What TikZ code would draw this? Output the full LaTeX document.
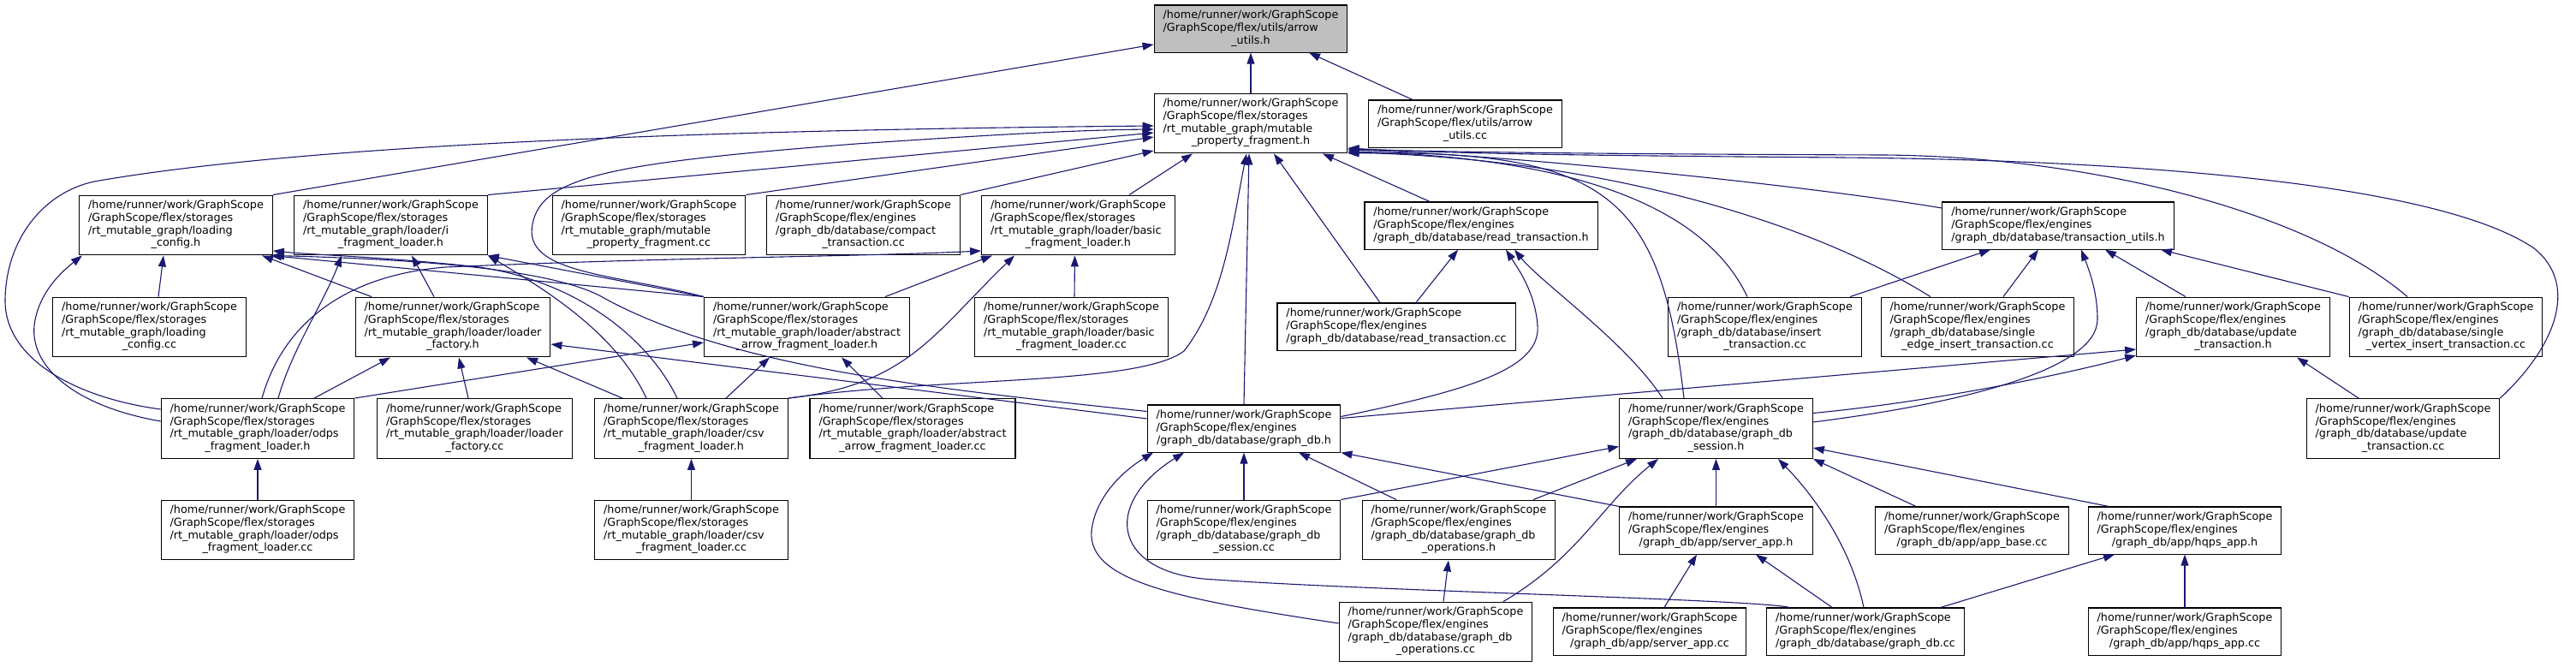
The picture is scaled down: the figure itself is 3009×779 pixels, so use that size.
\documentclass[tikz,border=0pt]{standalone}
\usepackage{fontspec}
\setmainfont{DejaVu Sans}
\usetikzlibrary{arrows.meta}
\definecolor{edgeblue}{HTML}{191970}
\definecolor{rootgray}{HTML}{BFBFBF}
\newcommand{\fpath}[2]{\begin{tabular}{@{}l@{}}/home/runner/work/GraphScope\\#1\\\multicolumn{1}{@{}c@{}}{#2}\end{tabular}}

\begin{document}
\begin{tikzpicture}[x=1pt, y=-1pt,
    font=\fontsize{12.75}{14.7}\selectfont,
    file/.style={draw=black, line width=1.1pt, fill=white, inner xsep=10.5pt, inner ysep=5.5pt},
    edge/.style={draw=edgeblue, line width=1.1pt, -{Triangle[length=13pt, width=9pt]}}
]
  \useasboundingbox (0,0) rectangle (3009,779);

  \node[file, fill=rootgray] (root) at (1461,33.5) {\fpath{/GraphScope/flex/utils/arrow}{\_utils.h}};
  \node[file] (mpf) at (1461,144) {\fpath{/GraphScope/flex/storages\\/rt\_mutable\_graph/mutable}{\_property\_fragment.h}};
  \node[file] (auc) at (1711.5,144.5) {\fpath{/GraphScope/flex/utils/arrow}{\_utils.cc}};

  \node[file] (lch) at (205.5,263) {\fpath{/GraphScope/flex/storages\\/rt\_mutable\_graph/loading}{\_config.h}};
  \node[file] (ifl) at (456.5,263) {\fpath{/GraphScope/flex/storages\\/rt\_mutable\_graph/loader/i}{\_fragment\_loader.h}};
  \node[file] (mpfcc) at (758,263) {\fpath{/GraphScope/flex/storages\\/rt\_mutable\_graph/mutable}{\_property\_fragment.cc}};
  \node[file] (compact) at (1008.5,263) {\fpath{/GraphScope/flex/engines\\/graph\_db/database/compact}{\_transaction.cc}};
  \node[file] (bflh) at (1259.5,263) {\fpath{/GraphScope/flex/storages\\/rt\_mutable\_graph/loader/basic}{\_fragment\_loader.h}};
  \node[file] (rth) at (1730,263.5) {\fpath{/GraphScope/flex/engines}{/graph\_db/database/read\_transaction.h}};
  \node[file] (tuh) at (2404,263.5) {\fpath{/GraphScope/flex/engines}{/graph\_db/database/transaction\_utils.h}};

  \node[file] (lccc) at (174.5,382) {\fpath{/GraphScope/flex/storages\\/rt\_mutable\_graph/loading}{\_config.cc}};
  \node[file] (lfh) at (529,382) {\fpath{/GraphScope/flex/storages\\/rt\_mutable\_graph/loader/loader}{\_factory.h}};
  \node[file] (aafh) at (942.5,382) {\fpath{/GraphScope/flex/storages\\/rt\_mutable\_graph/loader/abstract}{\_arrow\_fragment\_loader.h}};
  \node[file] (bflcc) at (1251.5,382) {\fpath{/GraphScope/flex/storages\\/rt\_mutable\_graph/loader/basic}{\_fragment\_loader.cc}};
  \node[file] (rtcc) at (1631,381.5) {\fpath{/GraphScope/flex/engines}{/graph\_db/database/read\_transaction.cc}};
  \node[file] (itcc) at (2061.5,382) {\fpath{/GraphScope/flex/engines\\/graph\_db/database/insert}{\_transaction.cc}};
  \node[file] (seitcc) at (2310,382) {\fpath{/GraphScope/flex/engines\\/graph\_db/database/single}{\_edge\_insert\_transaction.cc}};
  \node[file] (uth) at (2608.5,382) {\fpath{/GraphScope/flex/engines\\/graph\_db/database/update}{\_transaction.h}};
  \node[file] (svitcc) at (2857,382) {\fpath{/GraphScope/flex/engines\\/graph\_db/database/single}{\_vertex\_insert\_transaction.cc}};

  \node[file] (odpsh) at (301,500.5) {\fpath{/GraphScope/flex/storages\\/rt\_mutable\_graph/loader/odps}{\_fragment\_loader.h}};
  \node[file] (lfcc) at (554.5,500.5) {\fpath{/GraphScope/flex/storages\\/rt\_mutable\_graph/loader/loader}{\_factory.cc}};
  \node[file] (csvh) at (807.5,500.5) {\fpath{/GraphScope/flex/storages\\/rt\_mutable\_graph/loader/csv}{\_fragment\_loader.h}};
  \node[file] (aafcc) at (1066,500.5) {\fpath{/GraphScope/flex/storages\\/rt\_mutable\_graph/loader/abstract}{\_arrow\_fragment\_loader.cc}};
  \node[file] (gdbh) at (1453,500.5) {\fpath{/GraphScope/flex/engines}{/graph\_db/database/graph\_db.h}};
  \node[file] (gdsh) at (2004.5,500.5) {\fpath{/GraphScope/flex/engines\\/graph\_db/database/graph\_db}{\_session.h}};
  \node[file] (utcc) at (2807,500.5) {\fpath{/GraphScope/flex/engines\\/graph\_db/database/update}{\_transaction.cc}};

  \node[file] (odpscc) at (301,619) {\fpath{/GraphScope/flex/storages\\/rt\_mutable\_graph/loader/odps}{\_fragment\_loader.cc}};
  \node[file] (csvcc) at (807.5,619) {\fpath{/GraphScope/flex/storages\\/rt\_mutable\_graph/loader/csv}{\_fragment\_loader.cc}};
  \node[file] (gdscc) at (1453,619) {\fpath{/GraphScope/flex/engines\\/graph\_db/database/graph\_db}{\_session.cc}};
  \node[file] (gdoh) at (1704,619) {\fpath{/GraphScope/flex/engines\\/graph\_db/database/graph\_db}{\_operations.h}};
  \node[file] (sah) at (2004.5,619.5) {\fpath{/GraphScope/flex/engines}{/graph\_db/app/server\_app.h}};
  \node[file] (abcc) at (2303.5,619.5) {\fpath{/GraphScope/flex/engines}{/graph\_db/app/app\_base.cc}};
  \node[file] (hah) at (2552,619.5) {\fpath{/GraphScope/flex/engines}{/graph\_db/app/hqps\_app.h}};

  \node[file] (gdocc) at (1677,738) {\fpath{/GraphScope/flex/engines\\/graph\_db/database/graph\_db}{\_operations.cc}};
  \node[file] (sacc) at (1927,737.5) {\fpath{/GraphScope/flex/engines}{/graph\_db/app/server\_app.cc}};
  \node[file] (gdbcc) at (2179,737.5) {\fpath{/GraphScope/flex/engines}{/graph\_db/database/graph\_db.cc}};
  \node[file] (hacc) at (2552,737.5) {\fpath{/GraphScope/flex/engines}{/graph\_db/app/hqps\_app.cc}};

  % into arrow_utils.h
  \draw[edge] (mpf.north) -- (root.south);
  \draw[edge] ([xshift=-61.5pt]auc.north) -- ([xshift=68pt]root.south);
  \draw[edge] (lch.north east) -- ([yshift=-18.5pt]root.west);

  % into mutable_property_fragment.h
  \draw[edge] ([yshift=22.5pt]odpsh.west) .. controls (90,465) and (5,420) .. (6,350) .. controls (7,280) and (50,225) .. (110,212) .. controls (350,170) and (800,152) .. ([yshift=-3pt]mpf.west);
  \draw[edge] (aafh.north west) .. controls (720,320) and (610,320) .. (622,262) .. controls (632,205) and (720,190) .. (1000,168) .. controls (1150,158) and (1250,152) .. ([yshift=-7pt]mpf.west);
  \draw[edge] (ifl.north east) -- ([yshift=-11pt]mpf.west);
  \draw[edge] (mpfcc.north east) -- ([yshift=-16pt]mpf.west);
  \draw[edge] (compact.north east) -- ([yshift=-32pt]mpf.west);
  \draw[edge] ([xshift=59.5pt]bflh.north) -- ([xshift=-68pt]mpf.south);
  \draw[edge] (csvh.north east) .. controls (1100,440) and (1330,450) .. (1383,410) .. controls (1430,350) and (1440,260) .. ([xshift=-5pt]mpf.south);
  \draw[edge] (gdbh.north) -- ([xshift=-2pt]mpf.south);
  \draw[edge] ([xshift=-19pt]rtcc.north) -- ([xshift=27pt]mpf.south);
  \draw[edge] ([xshift=-60pt]rth.north) -- ([xshift=84pt]mpf.south);
  \draw[edge] ([yshift=20.5pt]tuh.west) .. controls (2100,215) and (1750,180) .. ([yshift=-31pt]mpf.east);
  \draw[edge] ([xshift=-20.5pt]itcc.north) .. controls (2000,260) and (1880,185) .. ([yshift=-33pt]mpf.east);
  \draw[edge] ([xshift=-55pt]seitcc.north) .. controls (2100,250) and (1850,185) .. ([yshift=-34pt]mpf.east);
  \draw[edge] ([xshift=-45pt]svitcc.north) .. controls (2700,250) and (2450,183) .. (2200,181) .. controls (1900,180) and (1700,178) .. ([yshift=-30pt]mpf.east);
  \draw[edge] (utcc.north east) .. controls (2990,400) and (3010,330) .. (2960,290) .. controls (2850,215) and (2500,187) .. (2150,184) .. controls (1900,182) and (1700,180) .. ([yshift=-29pt]mpf.east);
  \draw[edge] ([xshift=-37.5pt]gdsh.north) .. controls (1940,230) and (1880,175) .. ([yshift=-35pt]mpf.east);

  % loader headers
  \draw[edge] ([xshift=10.5pt]lccc.north) -- ([xshift=-14.5pt]lch.south);
  \draw[edge] ([xshift=-95pt]lfh.north) -- ([xshift=100.5pt]lch.south);
  \draw[edge] (aafh.north west) -- ([xshift=-3pt]lch.south east);
  \draw[edge] ([yshift=8.5pt]odpsh.west) .. controls (90,475) and (35,430) .. (40,380) .. controls (45,340) and (75,315) .. ([xshift=-109.5pt]lch.south);
  \draw[edge] ([yshift=20pt]gdbh.west) .. controls (1100,455) and (850,430) .. (700,345) .. controls (630,310) and (450,302) .. (lch.south east);
  \draw[edge] ([xshift=-16.5pt]csvh.north) .. controls (760,400) and (680,330) .. (560,312) .. controls (450,300) and (370,298) .. ([yshift=-30pt]lch.east);
  \draw[edge] ([xshift=-22pt]lfh.north) -- ([xshift=24.5pt]ifl.south);
  \draw[edge] (aafh.north west) -- (ifl.south east);
  \draw[edge] ([xshift=24pt]odpsh.north) .. controls (340,410) and (380,350) .. ([xshift=-57.5pt]ifl.south);
  \draw[edge] ([xshift=-52.5pt]csvh.north) .. controls (720,390) and (640,340) .. (ifl.south east);
  \draw[edge] ([xshift=66pt]odpsh.north) -- ([xshift=-73pt]lfh.south);
  \draw[edge] ([xshift=-7.5pt]lfcc.north) -- ([xshift=7pt]lfh.south);
  \draw[edge] ([xshift=-80.5pt]csvh.north) -- ([xshift=86pt]lfh.south);
  \draw[edge] ([yshift=11.5pt]gdbh.west) -- ([yshift=-20pt]lfh.east);
  \draw[edge] (odpsh.north east) -- ([yshift=-18pt]aafh.west);
  \draw[edge] ([xshift=40.5pt]csvh.north) -- ([xshift=-43.5pt]aafh.south);
  \draw[edge] ([xshift=-35pt]aafcc.north) -- ([xshift=40.5pt]aafh.south);
  \draw[edge] ([xshift=91.5pt]aafh.north) -- ([xshift=-100.5pt]bflh.south);
  \draw[edge] (csvh.north east) .. controls (1060,450) and (1090,390) .. ([xshift=-74.5pt]bflh.south);
  \draw[edge] ([xshift=5pt]odpsh.north) .. controls (330,380) and (400,322) .. (520,312) .. controls (800,300) and (1000,300) .. ([yshift=-30pt]bflh.west);
  \draw[edge] ([xshift=3.5pt]bflcc.north) -- ([xshift=-4pt]bflh.south);
  \draw[edge] (odpscc.north) -- (odpsh.south);
  \draw[edge] (csvcc.north) -- (csvh.south);

  % transactions
  \draw[edge] ([xshift=23pt]rtcc.north) -- ([xshift=-27pt]rth.south);
  \draw[edge] ([yshift=14pt]gdbh.east) .. controls (1720,455) and (1800,430) .. (1796,380) .. controls (1793,340) and (1772,312) .. ([xshift=29pt]rth.south);
  \draw[edge] ([xshift=-62.5pt]gdsh.north) .. controls (1900,400) and (1800,330) .. ([xshift=39pt]rth.south);
  \draw[edge] ([xshift=99.5pt]itcc.north) -- ([xshift=-79pt]tuh.south);
  \draw[edge] ([xshift=30pt]seitcc.north) -- ([xshift=-23pt]tuh.south);
  \draw[edge] ([xshift=-55.5pt]uth.north) -- ([xshift=55pt]tuh.south);
  \draw[edge] (svitcc.north west) -- ([xshift=120pt]tuh.south);
  \draw[edge] ([yshift=7.5pt]gdsh.east) .. controls (2300,470) and (2450,430) .. (2450,373) .. controls (2450,340) and (2440,315) .. ([xshift=27pt]tuh.south);
  \draw[edge] ([xshift=-52pt]utcc.north) -- ([xshift=74.5pt]uth.south);
  \draw[edge] ([yshift=12pt]gdbh.east) -- ([yshift=-26pt]uth.west);
  \draw[edge] ([yshift=18pt]gdsh.east) .. controls (2250,470) and (2400,440) .. ([yshift=-33pt]uth.west);

  % graph_db and apps
  \draw[edge] (gdscc.north) -- (gdbh.south);
  \draw[edge] ([xshift=-73pt]gdoh.north) -- ([xshift=64pt]gdbh.south);
  \draw[edge] ([yshift=10pt]gdocc.west) .. controls (1380,700) and (1270,680) .. (1275,620) .. controls (1280,575) and (1320,545) .. ([xshift=-106pt]gdbh.south);
  \draw[edge] ([xshift=-89pt]gdbcc.north) .. controls (2050,700) and (1600,690) .. (1420,677) .. controls (1300,672) and (1285,590) .. ([xshift=-70pt]gdbh.south);
  \draw[edge] (sah.north west) -- (gdbh.south east);
  \draw[edge] (gdscc.north east) -- ([yshift=-21pt]gdsh.west);
  \draw[edge] ([xshift=87pt]gdoh.north) -- ([xshift=-92.5pt]gdsh.south);
  \draw[edge] ([xshift=79pt]gdocc.north) .. controls (1845,650) and (1870,590) .. ([xshift=-67.5pt]gdsh.south);
  \draw[edge] (sah.north) -- (gdsh.south);
  \draw[edge] ([xshift=-2pt]gdbcc.north) .. controls (2160,630) and (2110,570) .. ([xshift=72.5pt]gdsh.south);
  \draw[edge] ([xshift=-65.5pt]abcc.north) -- (gdsh.south east);
  \draw[edge] ([xshift=-89pt]hah.north) -- ([yshift=-22.5pt]gdsh.east);
  \draw[edge] ([xshift=9pt]gdocc.north) -- ([xshift=-12pt]gdoh.south);
  \draw[edge] ([xshift=17pt]sacc.north) -- ([xshift=-22.5pt]sah.south);
  \draw[edge] ([xshift=-39pt]gdbcc.north) -- ([xshift=46.5pt]sah.south);
  \draw[edge] ([xshift=88pt]gdbcc.north) -- ([xshift=-82pt]hah.south);
  \draw[edge] (hacc.north) -- (hah.south);
\end{tikzpicture}
\end{document}
